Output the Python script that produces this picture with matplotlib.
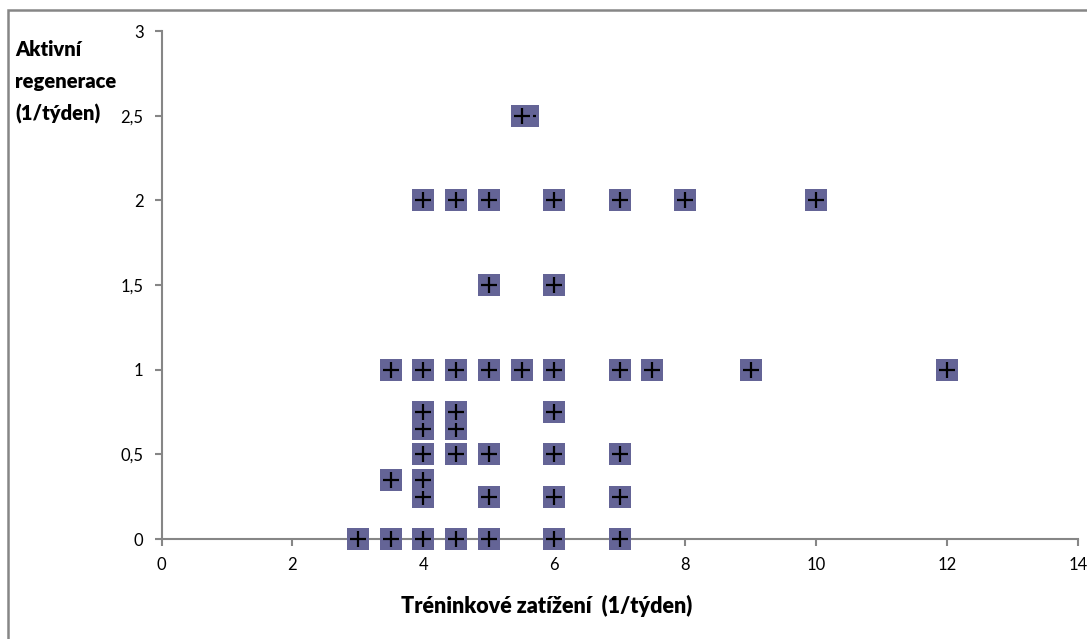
import matplotlib.pyplot as plt
from matplotlib.patches import Rectangle

# training load (x) vs active regeneration (y), both per week
x_vals = [3, 3.5, 4, 4.5, 5, 6, 7,
          4, 5, 6, 7,
          3.5, 4,
          4, 4.5, 5, 6, 7,
          4, 4.5,
          4, 4.5, 6,
          3.5, 4, 4.5, 5, 5.5, 6, 7, 7.5, 9, 12,
          5, 6,
          4, 4.5, 5, 6, 7, 8, 10,
          5.6, 5.5]
y_vals = [0, 0, 0, 0, 0, 0, 0,
          0.25, 0.25, 0.25, 0.25,
          0.35, 0.35,
          0.5, 0.5, 0.5, 0.5, 0.5,
          0.65, 0.65,
          0.75, 0.75, 0.75,
          1, 1, 1, 1, 1, 1, 1, 1, 1, 1,
          1.5, 1.5,
          2, 2, 2, 2, 2, 2, 2,
          2.5, 2.5]

x_ticks = [0, 2, 4, 6, 8, 10, 12, 14]
y_ticks = [0, 0.5, 1, 1.5, 2, 2.5, 3]
y_tick_labels = ['0', '0,5', '1', '1,5', '2', '2,5', '3']

plt.rcParams['font.family'] = ['Lato', 'DejaVu Sans']

fig = plt.figure(figsize=(10.87, 6.39), dpi=100)
ax = fig.add_axes([161.5 / 1087, 100 / 639, (1078 - 161.5) / 1087, 508 / 639])

# each point: square then cross, drawn one after another so later ones cover earlier
z = 3
for x, y in zip(x_vals, y_vals):
    ax.plot(x, y, marker='s', markersize=15.5, color='#646496',
            markeredgewidth=0, linestyle='none', zorder=z, clip_on=False)
    ax.plot(x, y, marker='+', markersize=11, color='black',
            markeredgewidth=1.6, linestyle='none', zorder=z + 1, clip_on=False)
    z += 2

ax.set_xlim(0, 14)
ax.set_ylim(0, 3)
ax.set_xticks(x_ticks)
ax.set_yticks(y_ticks)
ax.set_yticklabels(y_tick_labels)

for s in ['top', 'right']:
    ax.spines[s].set_visible(False)
for s in ['left', 'bottom']:
    ax.spines[s].set_color('#868686')
    ax.spines[s].set_linewidth(1.5)
ax.tick_params(colors='#868686', width=1.5, length=5, labelsize=12, labelcolor='black')
ax.tick_params(axis='x', pad=8)
ax.tick_params(axis='y', pad=8)

fig.text(547 / 1087, 1 - 606 / 639, 'Tréninkové zatížení  (1/týden)',
         ha='center', va='center', fontsize=15.5, fontweight='heavy')
fig.text(15 / 1087, 1 - 40 / 639, 'Aktivní\nregenerace\n(1/týden)',
         ha='left', va='top', fontsize=14.5, fontweight='heavy', linespacing=1.8)

fig.patches.append(Rectangle((8 / 1087, -0.1), 1.2, 1 - 9.5 / 639 + 0.1,
                             transform=fig.transFigure, fill=False,
                             edgecolor='#868686', linewidth=1.8))

fig.savefig('out.png', dpi=100)
